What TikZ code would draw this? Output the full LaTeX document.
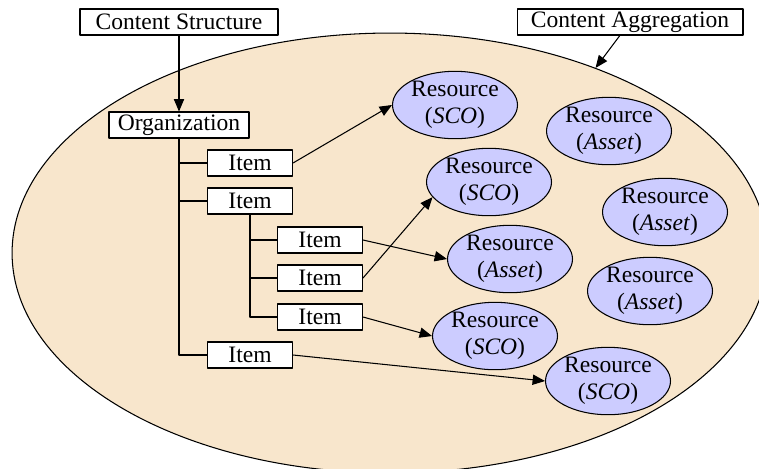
\documentclass[tikz,border=0pt]{standalone}
\usepackage{fontspec}
\setmainfont{Liberation Serif}
\usepackage{tikz}
\usetikzlibrary{arrows,shapes.geometric}
\definecolor{aggfill}{RGB}{248,230,204}
\definecolor{resfill}{RGB}{204,204,255}

\begin{document}
\begin{tikzpicture}[line cap=round,line join=round,>=triangle 45,x=0.02cm,y=-0.02cm,
  box/.style={draw,line width=0.6pt,fill=white,inner sep=0pt,minimum height=0.52cm,font=\fontsize{13.4}{15.5}\selectfont},
  res/.style={draw,line width=0.6pt,ellipse,fill=resfill,inner sep=0pt,minimum width=2.5cm,minimum height=1.26cm,align=center,font=\fontsize{13.4}{15.5}\selectfont}]
\useasboundingbox (0,0) rectangle (759,468);
\clip (0,0) rectangle (759,468);
% content aggregation
\node [draw,line width=0.6pt,ellipse,fill=aggfill,inner sep=0pt,minimum width=15.12cm,minimum height=8.8cm] (agg) at (390,253) {};
\node [box,minimum width=4.52cm] (ca) at (630,22) {Content Aggregation};
\draw [->,line width=0.6pt] (ca) -- (agg.42);
% content structure
\node [box,minimum width=3.96cm] (cs) at (179,22) {Content Structure};
\node [box,minimum width=2.8cm] (org) at (179,125) {Organization};
\node [box,minimum width=1.7cm] (it1) at (250,163) {Item};
\node [box,minimum width=1.7cm] (it2) at (250,201) {Item};
\node [box,minimum width=1.7cm] (it3) at (320,240) {Item};
\node [box,minimum width=1.7cm] (it4) at (320,278) {Item};
\node [box,minimum width=1.7cm] (it5) at (320,317) {Item};
\node [box,minimum width=1.7cm] (it6) at (250,355) {Item};
\draw [->,line width=0.6pt] (cs) -- (org);
\draw [line width=0.6pt] (org.south) -- (org.south |- it6) -- (it6.west);
\draw [line width=0.6pt] (org.south |- it1) -- (it1.west);
\draw [line width=0.6pt] (org.south |- it2) -- (it2.west);
\draw [line width=0.6pt] (it2.south) -- (it2.south |- it5) -- (it5.west);
\draw [line width=0.6pt] (it2.south |- it3) -- (it3.west);
\draw [line width=0.6pt] (it2.south |- it4) -- (it4.west);
% resources
\node [res] (r1) at (455,105) {Resource\\(\textit{SCO})};
\node [res] (r2) at (609,131) {Resource\\(\textit{Asset})};
\node [res] (r3) at (489,182) {Resource\\(\textit{SCO})};
\node [res] (r4) at (665,212) {Resource\\(\textit{Asset})};
\node [res] (r5) at (510,259) {Resource\\(\textit{Asset})};
\node [res] (r6) at (650,291) {Resource\\(\textit{Asset})};
\node [res] (r7) at (495,336) {Resource\\(\textit{SCO})};
\node [res] (r8) at (608,381) {Resource\\(\textit{SCO})};
\draw [->,line width=0.6pt] (it1.east) -- (r1.west);
\draw [->,line width=0.6pt] (it4.east) -- (r3.195);
\draw [->,line width=0.6pt] (it3.east) -- (r5.west);
\draw [->,line width=0.6pt] (it5.east) -- (r7.west);
\draw [->,line width=0.6pt] (it6.east) -- (r8.west);
\end{tikzpicture}
\end{document}
